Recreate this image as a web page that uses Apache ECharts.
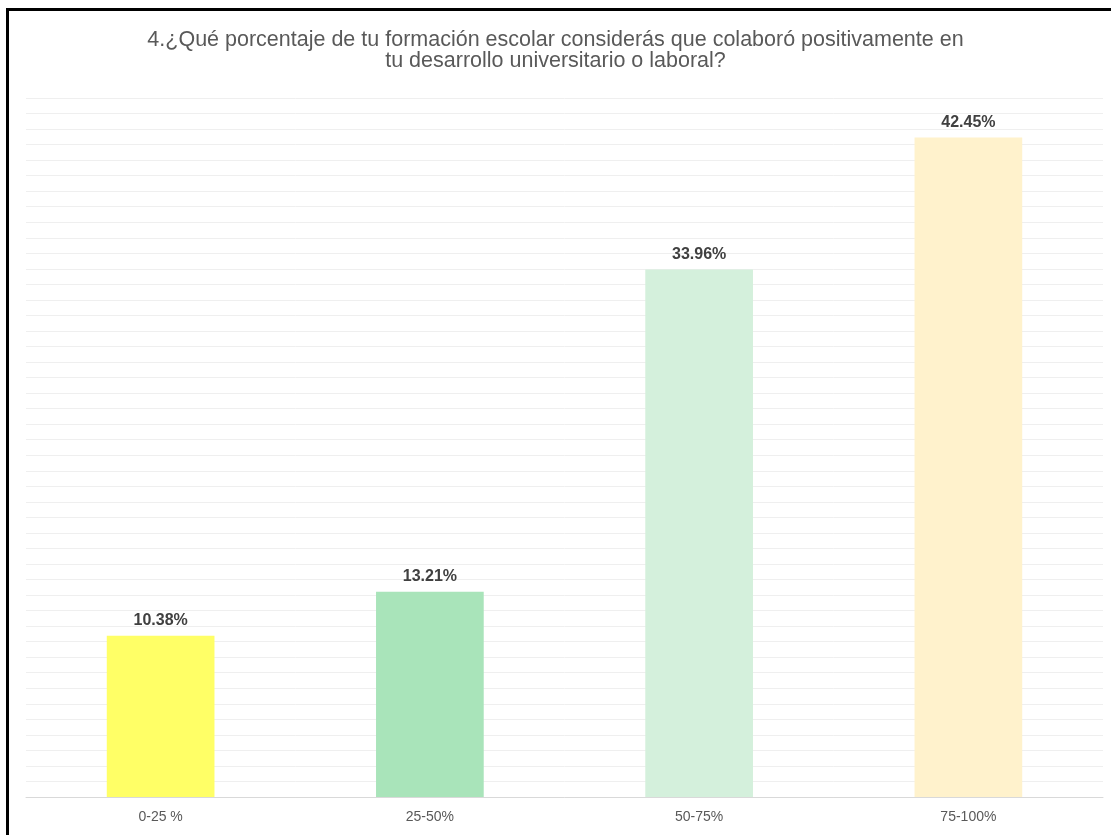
<!DOCTYPE html>
<html>
<head>
<meta charset="utf-8">
<script src="https://cdn.jsdelivr.net/npm/echarts@6/dist/echarts.min.js"></script>
<style>
  html, body { margin: 0; padding: 0; background: #fff; }
  #frame { position: absolute; left: 6px; top: 8px; width: 1105px; height: 827px; border-left: 3px solid #000; border-top: 3px solid #000; box-sizing: border-box; }
  #chart { position: absolute; left: 0; top: 0; width: 1111px; height: 835px; }
</style>
</head>
<body>
<div id="chart"></div>
<div id="frame"></div>
<script>
const titleText = '4.¿Qué porcentaje de tu formación escolar considerás que colaboró positivamente en\ntu desarrollo universitario o laboral?';
const categories = ['0-25 %', '25-50%', '50-75%', '75-100%'];
const values = [10.38, 13.21, 33.96, 42.45];
const barColors = ['#FFFF66', '#A9E4BA', '#D4F0DC', '#FFF2CC'];

const chart = echarts.init(document.getElementById('chart'), null, { renderer: 'canvas' });
chart.setOption({
  animation: false,
  backgroundColor: '#fff',
  title: {
    text: titleText,
    left: 'center',
    top: 25,
    textStyle: {
      fontFamily: 'Liberation Sans, Arial, sans-serif',
      fontSize: 21.5,
      fontWeight: 'normal',
      color: '#595959',
      lineHeight: 21
    }
  },
  grid: { left: 26, right: 8, top: 98, bottom: 38, containLabel: false },
  xAxis: {
    type: 'category',
    data: categories,
    axisLine: { lineStyle: { color: '#D9D9D9', width: 1 } },
    axisTick: { show: false },
    axisLabel: {
      margin: 13,
      fontFamily: 'Liberation Sans, Arial, sans-serif',
      fontSize: 14,
      color: '#595959'
    }
  },
  yAxis: {
    type: 'value',
    min: 0,
    max: 45,
    interval: 1,
    axisLabel: { show: false },
    axisLine: { show: false },
    axisTick: { show: false },
    splitLine: { lineStyle: { color: '#EFEFEF', width: 1 } }
  },
  series: [{
    type: 'bar',
    data: values.map((v, i) => ({ value: v, itemStyle: { color: barColors[i] } })),
    barWidth: '40%',
    label: {
      show: true,
      position: 'top',
      distance: 7,
      formatter: p => p.value.toFixed(2) + '%',
      fontFamily: 'Liberation Sans, Arial, sans-serif',
      fontSize: 16,
      fontWeight: 'bold',
      color: '#404040'
    }
  }]
});
</script>
</body>
</html>
